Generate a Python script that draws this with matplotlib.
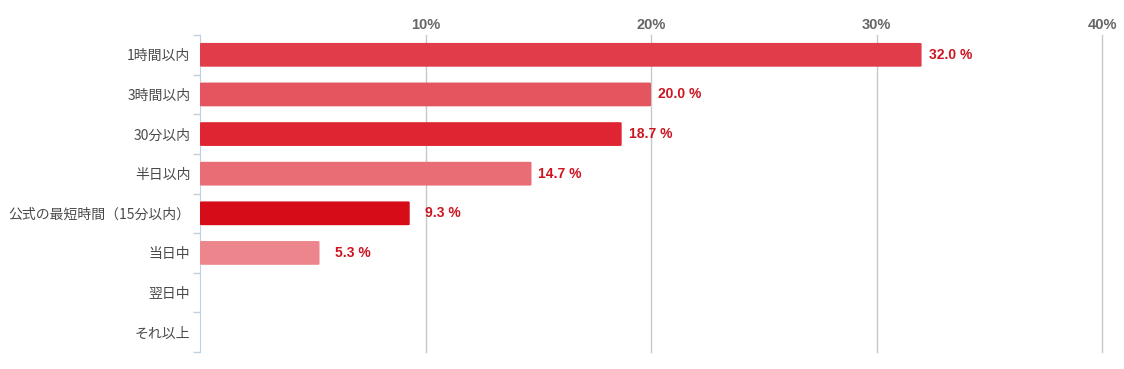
import matplotlib
matplotlib.use("Agg")
import matplotlib.pyplot as plt
from matplotlib.patches import FancyBboxPatch

categories = ["1時間以内", "3時間以内", "30分以内", "半日以内",
              "公式の最短時間（15分以内）", "当日中", "翌日中", "それ以上"]
values = [32.0, 20.0, 18.7, 14.7, 9.3, 5.3, 0.0, 0.0]
colors = ["#E03C4A", "#E4555F", "#DE2531", "#E86D74", "#D70C19", "#EC868C", "#EC868C", "#EC868C"]
xticks = [10, 20, 30, 40]
xticklabels = ["10%", "20%", "30%", "40%"]

plt.rcParams['font.family'] = ['Noto Sans CJK JP', 'DejaVu Sans']

W, H = 1124, 369
fig = plt.figure(figsize=(W / 100, H / 100), dpi=100)
ax = fig.add_axes([200 / W, 1 - 352 / H, (1102 - 200) / W, (352 - 35) / H])

n = len(categories)
ax.set_xlim(0, 40)
ax.set_ylim(n - 0.5, -0.5)

bar_h = 0.6
for i, (v, c) in enumerate(zip(values, colors)):
    if v <= 0:
        continue
    p = FancyBboxPatch((0, i - bar_h / 2), v, bar_h,
                       boxstyle="round,pad=0,rounding_size=0.08",
                       mutation_aspect=1 / 3.4,
                       facecolor=c, edgecolor="none", zorder=3)
    ax.add_patch(p)
    pad = 15 if v < 10 else 7
    ax.annotate(f"{v:.1f} %", xy=(v, i), xytext=(pad, 0), textcoords="offset pixels",
                va="center", ha="left", fontsize=10, fontweight="bold",
                color="#CC1521", family="Liberation Sans", zorder=4)

# vertical gridlines
for t in xticks:
    ax.axvline(t, color="#C8C8C8", linewidth=1, zorder=1, clip_on=False)

ax.xaxis.tick_top()
ax.set_xticks(xticks)
ax.set_xticklabels(xticklabels, fontsize=10.5, fontweight="bold", color="#666666",
                   family="Liberation Sans")
ax.tick_params(axis="x", length=0, pad=2)

# y axis ticks at band boundaries
ax.set_yticks(range(n))
ax.set_yticklabels(categories, fontsize=10, color="#4A4A4A")
ax.tick_params(axis="y", length=0, pad=7)
ax.set_yticks([i + 0.5 for i in range(-1, n)], minor=True)
ax.tick_params(axis="y", which="minor", length=5, color="#C0D0E0", width=1)

for s in ["top", "right", "bottom"]:
    ax.spines[s].set_visible(False)
ax.spines["left"].set_color("#C0D0E0")

fig.savefig("out.png", dpi=100, facecolor="white")
